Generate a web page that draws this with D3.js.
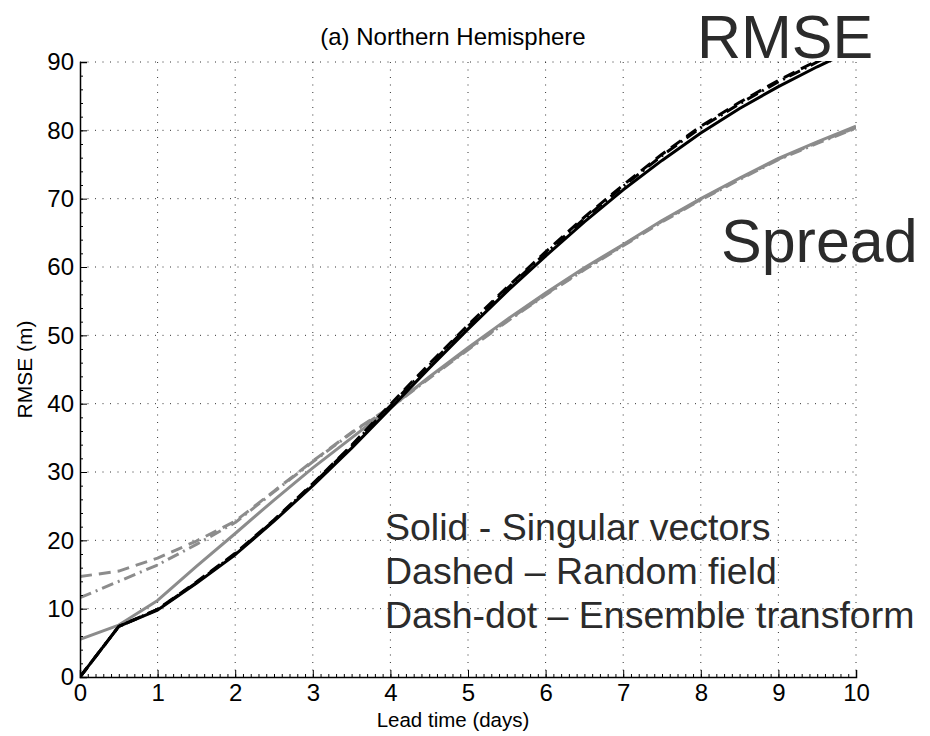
<!DOCTYPE html>
<html>
<head>
<meta charset="utf-8">
<script src="https://cdn.jsdelivr.net/npm/d3@7"></script>
<style>
  body { margin: 0; background: #fff; }
  svg { display: block; font-family: "Liberation Sans", Arial, Helvetica, sans-serif; }
</style>
</head>
<body>
<svg id="chart" width="930" height="736"></svg>
<script>
// ---- data ----
const leadTimes = [0, 0.5, 1, 1.5, 2, 2.5, 3, 3.5, 4, 4.5, 5, 5.5, 6, 6.5, 7, 7.5, 8, 8.5, 9, 9.5, 10];
const rmseSV    = [0, 7.4, 9.8, 13.7, 17.9, 22.8, 28.0, 33.5, 39.3, 45.2, 50.9, 56.4, 61.6, 66.6, 71.3, 75.6, 79.6, 83.2, 86.4, 89.3, 92.0];
const rmseRF    = [0, 7.4, 9.9, 13.9, 18.1, 23.0, 28.3, 33.9, 39.9, 45.8, 51.5, 57.0, 62.2, 67.3, 72.0, 76.5, 80.6, 84.1, 87.3, 90.2, 93.0];
const rmseET    = [0, 7.4, 9.9, 13.8, 18.0, 22.9, 28.2, 33.8, 39.7, 45.6, 51.3, 56.8, 62.0, 67.1, 71.8, 76.3, 80.4, 83.9, 87.1, 90.0, 92.8];
const spreadSV  = [5.5, 7.6, 11.2, 16.2, 21.0, 25.9, 30.6, 35.0, 39.4, 43.9, 48.2, 52.3, 56.2, 59.9, 63.3, 66.8, 70.0, 73.0, 75.9, 78.3, 80.6];
const spreadRF  = [14.7, 15.5, 17.4, 19.9, 22.8, 27.2, 31.6, 35.8, 39.5, 43.8, 48.0, 52.1, 56.0, 59.7, 63.2, 66.7, 69.9, 72.9, 75.8, 78.2, 80.4];
const spreadET  = [11.6, 14.0, 16.4, 19.4, 22.6, 27.1, 31.5, 35.7, 39.4, 43.7, 47.9, 52.0, 55.9, 59.6, 63.1, 66.6, 69.8, 72.8, 75.7, 78.1, 80.3];
const xTicks    = [0, 1, 2, 3, 4, 5, 6, 7, 8, 9, 10];
const yTicks    = [0, 10, 20, 30, 40, 50, 60, 70, 80, 90];
const titleText = "(a) Northern Hemisphere";
const xLabel    = "Lead time (days)";
const yLabel    = "RMSE (m)";
const legendLines = ["Solid - Singular vectors", "Dashed \u2013 Random field", "Dash-dot \u2013 Ensemble transform"];

const series = [
  { name: "spreadRF", values: spreadRF, color: "#8c8c8c", dash: "12,7" },
  { name: "spreadET", values: spreadET, color: "#8c8c8c", dash: "12,5,2,5" },
  { name: "spreadSV", values: spreadSV, color: "#8c8c8c", dash: null },
  { name: "rmseRF",   values: rmseRF,   color: "#000",    dash: "12,7" },
  { name: "rmseET",   values: rmseET,   color: "#000",    dash: "12,5,2,5" },
  { name: "rmseSV",   values: rmseSV,   color: "#000",    dash: null }
];

// ---- layout ----
const svg = d3.select("#chart");
const L = 80, R = 856, T = 62, B = 677;
const x = d3.scaleLinear().domain([0, 10]).range([L, R]);
const y = d3.scaleLinear().domain([0, 90]).range([B, T]);

// grid
const grid = svg.append("g").attr("stroke", "#333").attr("stroke-width", 1)
  .attr("stroke-dasharray", "1,6.5");
grid.selectAll("line.h").data(yTicks.filter(d => d > 0)).join("line")
  .attr("x1", L).attr("x2", R).attr("y1", d => y(d)).attr("y2", d => y(d));
grid.selectAll("line.v").data(xTicks.filter(d => d > 0)).join("line")
  .attr("y1", T).attr("y2", B).attr("x1", d => x(d)).attr("x2", d => x(d));

// clip
svg.append("clipPath").attr("id", "clip").append("rect")
  .attr("x", L).attr("y", T - 1).attr("width", R - L).attr("height", B - T + 1);

const line = d3.line().x((d, i) => x(leadTimes[i])).y(d => y(d)).curve(d3.curveLinear);
svg.append("g").attr("clip-path", "url(#clip)")
  .selectAll("path").data(series).join("path")
  .attr("d", d => line(d.values))
  .attr("fill", "none")
  .attr("stroke", d => d.color)
  .attr("stroke-width", 3)
  .attr("stroke-linejoin", "round")
  .attr("stroke-dasharray", d => d.dash);

// axes
const fontSize = 24;
const xAxis = svg.append("g").attr("transform", `translate(0,${B})`)
  .call(d3.axisBottom(x).tickValues(xTicks).tickSize(-7).tickPadding(7).tickFormat(d3.format("d")));
const xMinor = svg.append("g").attr("transform", `translate(0,${B})`)
  .call(d3.axisBottom(x).tickValues(d3.range(0, 101).map(d => d / 10)).tickSize(-3).tickFormat(""));
const yAxis = svg.append("g").attr("transform", `translate(${L},0)`)
  .call(d3.axisLeft(y).tickValues(yTicks).tickSize(-7).tickPadding(6).tickFormat(d3.format("d")));
const yMinor = svg.append("g").attr("transform", `translate(${L},0)`)
  .call(d3.axisLeft(y).tickValues(d3.range(0, 91, 2)).tickSize(-3).tickFormat(""));
[xAxis, yAxis, xMinor, yMinor].forEach(g => {
  g.selectAll("path.domain").attr("stroke", "#000").attr("stroke-width", 1.5);
  g.selectAll(".tick line").attr("stroke", "#000").attr("stroke-width", 1);
  g.selectAll(".tick text").attr("fill", "#000").style("font-size", fontSize + "px")
    .style("font-family", "'Liberation Sans', Arial, Helvetica, sans-serif");
});
xMinor.selectAll("path.domain").remove();
yMinor.selectAll("path.domain").remove();

// labels
svg.append("text").attr("x", 453).attr("y", 45).attr("text-anchor", "middle")
  .style("font-size", "24px").attr("fill", "#000").text(titleText);
svg.append("text").attr("x", 453).attr("y", 727).attr("text-anchor", "middle")
  .style("font-size", "20.5px").attr("fill", "#000").text(xLabel);
svg.append("text").attr("transform", `translate(32,${(T + B) / 2}) rotate(-90)`)
  .attr("text-anchor", "middle").style("font-size", "21px").attr("fill", "#000").text(yLabel);

// annotations
svg.append("text").attr("x", 697).attr("y", 58).style("font-size", "61px").attr("fill", "#2b2b2b").text("RMSE");
svg.append("text").attr("x", 721).attr("y", 262).style("font-size", "61px").attr("fill", "#2b2b2b").text("Spread");
svg.append("g").selectAll("text").data(legendLines).join("text")
  .attr("x", 385).attr("y", (d, i) => 540 + i * 44)
  .style("font-size", "37.5px").attr("fill", "#2b2b2b").text(d => d);
</script>
</body>
</html>
